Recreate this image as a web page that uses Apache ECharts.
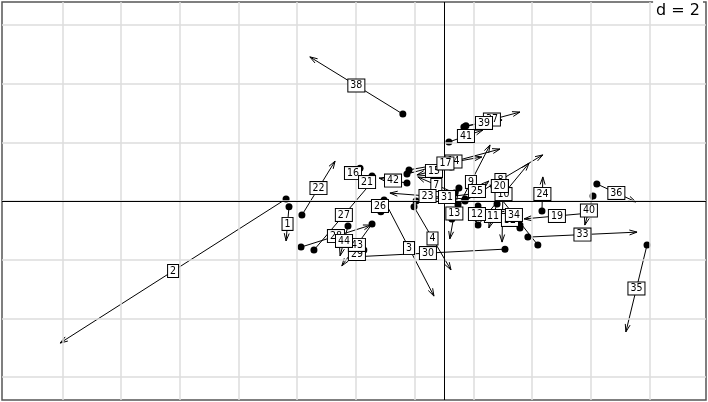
<!DOCTYPE html>
<html>
<head>
<meta charset="utf-8">
<script src="https://cdn.jsdelivr.net/npm/echarts@6/dist/echarts.min.js"></script>
<style>
html, body { margin: 0; padding: 0; background: #fff; }
#main { width: 708px; height: 402px; }
</style>
</head>
<body>
<div id="main"></div>
<script>
// row labels 1..44
var labels = ['1','2','3','4','5','6','7','8','9','10','11','12','13','14','15','16','17','18','19','20','21','22',
	'23','24','25','26','27','28','29','30','31','32','33','34','35','36','37','38','39','40','41','42','43','44'];
// first table (dots)
var startX = [-5.28,-5.38,-2.04,-1.02,2.59,2.01,0.37,0.48,0.27,1.16,1.81,1.16,0.51,-1.26,0.24,-2.86,-1.19,2.08,4.97,2.11,-2.45,-4.84,
	0.72,3.34,0.72,-2.15,-4.43,-4.87,-2.73,2.08,-0.95,2.59,2.86,3.20,6.92,5.21,0.68,-1.40,0.75,5.08,0.17,-1.26,-2.45,-3.27];
var startY = [-0.20,0.07,0.03,-0.20,-0.82,0.37,0.27,-0.14,-0.61,-0.82,-0.10,-0.17,0.44,0.92,1.16,1.12,1.06,0.44,-0.41,0.37,0.85,-0.48,
	0.07,-0.34,0.00,-0.37,-1.67,-1.57,-1.67,-1.64,0.00,-0.92,-1.23,-1.50,-1.50,0.58,2.52,2.96,2.56,0.17,2.01,0.61,-0.78,-0.85];
// second table (arrow ends)
var endX = [-5.38,-13.08,-0.34,0.24,1.91,1.98,-0.89,3.37,1.57,2.90,1.53,1.09,0.20,1.91,-0.92,-3.34,1.29,1.74,2.73,1.70,-2.79,-3.71,
	-1.84,3.37,1.53,-2.21,-2.39,-2.49,-3.20,-3.17,1.16,1.91,6.58,1.57,6.20,6.54,2.59,-4.57,1.98,4.80,1.33,-2.21,-3.48,-3.54];
var endY = [-1.36,-4.84,-3.24,-2.35,-0.41,-1.40,0.82,1.57,1.91,1.29,-0.92,-0.72,-1.29,1.77,0.89,0.78,1.50,0.58,-0.61,0.65,0.44,1.36,
	0.27,0.82,0.68,0.03,0.72,-0.82,-1.94,-1.91,0.27,-0.37,-1.06,0.55,-4.46,-0.03,3.03,4.91,2.76,-0.82,2.42,0.78,-2.21,-1.87];
var gridX = [-13, -11, -9, -7, -5, -3, -1, 1, 3, 5, 7];
var gridY = [-6, -4, -2, 0, 2, 4, 6];

var myChart = echarts.init(document.getElementById('main'));

var segData = [];
var dotData = [];
var labData = [];
for (var i = 0; i < labels.length; i++) {
	segData.push([startX[i], startY[i], endX[i], endY[i]]);
	dotData.push([startX[i], startY[i]]);
	labData.push([(startX[i] + endX[i]) / 2, (startY[i] + endY[i]) / 2, labels[i]]);
}

var gridLines = [];
gridX.forEach(function (v) { gridLines.push({ xAxis: v }); });
gridY.forEach(function (v) { gridLines.push({ yAxis: v }); });

function renderArrow(params, api) {
	var p1 = api.coord([api.value(0), api.value(1)]);
	var p2 = api.coord([api.value(2), api.value(3)]);
	var ang = Math.atan2(p2[1] - p1[1], p2[0] - p1[0]);
	var len = 8, a = 18 * Math.PI / 180;
	var h1 = [p2[0] - len * Math.cos(ang - a), p2[1] - len * Math.sin(ang - a)];
	var h2 = [p2[0] - len * Math.cos(ang + a), p2[1] - len * Math.sin(ang + a)];
	return {
		type: 'group',
		children: [{
			type: 'line',
			shape: { x1: p1[0], y1: p1[1], x2: p2[0], y2: p2[1] },
			style: { stroke: '#000', lineWidth: 1 }
		}, {
			type: 'polyline',
			shape: { points: [h1, p2, h2] },
			style: { stroke: '#000', lineWidth: 1, fill: null }
		}]
	};
}

function renderLabel(params, api) {
	var p = api.coord([api.value(0), api.value(1)]);
	return {
		type: 'text',
		style: {
			text: labData[params.dataIndex][2],
			x: p[0],
			y: p[1],
			align: 'center',
			verticalAlign: 'middle',
			font: '10.5px "DejaVu Sans Condensed", "DejaVu Sans", sans-serif',
			fill: '#000',
			backgroundColor: '#fff',
			borderColor: '#000',
			borderWidth: 1,
			padding: [1, 2, 0, 2]
		}
	};
}

option = {
	backgroundColor: '#fff',
	animation: false,
	title: {
		text: 'd = 2',
		right: 5,
		top: 1,
		padding: [2, 3],
		backgroundColor: '#fff',
		textStyle: { fontSize: 16, fontWeight: 'normal', color: '#000', fontFamily: 'DejaVu Sans' }
	},
	grid: {
		left: 2, right: 2, top: 2, bottom: 2,
		show: true,
		borderColor: '#555',
		borderWidth: 1.5
	},
	xAxis: { type: 'value', min: -15.06, max: 8.93, show: false },
	yAxis: { type: 'value', min: -6.78, max: 6.78, show: false },
	series: [{
		type: 'scatter',
		data: [],
		z: 1,
		markLine: {
			silent: true,
			symbol: 'none',
			label: { show: false },
			lineStyle: { color: '#dddddd', type: 'solid', width: 1.5 },
			data: gridLines
		}
	}, {
		type: 'scatter',
		data: [],
		z: 2,
		markLine: {
			silent: true,
			symbol: 'none',
			label: { show: false },
			lineStyle: { color: '#000', type: 'solid', width: 1 },
			data: [{ xAxis: 0 }, { yAxis: 0 }]
		}
	}, {
		type: 'custom',
		z: 3,
		renderItem: renderArrow,
		dimensions: ['x1', 'y1', 'x2', 'y2'],
		encode: { x: [0, 2], y: [1, 3] },
		data: segData
	}, {
		type: 'scatter',
		z: 4,
		symbol: 'circle',
		symbolSize: 7,
		itemStyle: { color: '#000', opacity: 1 },
		data: dotData
	}, {
		type: 'custom',
		z: 5,
		renderItem: renderLabel,
		encode: { x: 0, y: 1 },
		data: labData
	}]
};
myChart.setOption(option, true);
</script>
</body>
</html>
